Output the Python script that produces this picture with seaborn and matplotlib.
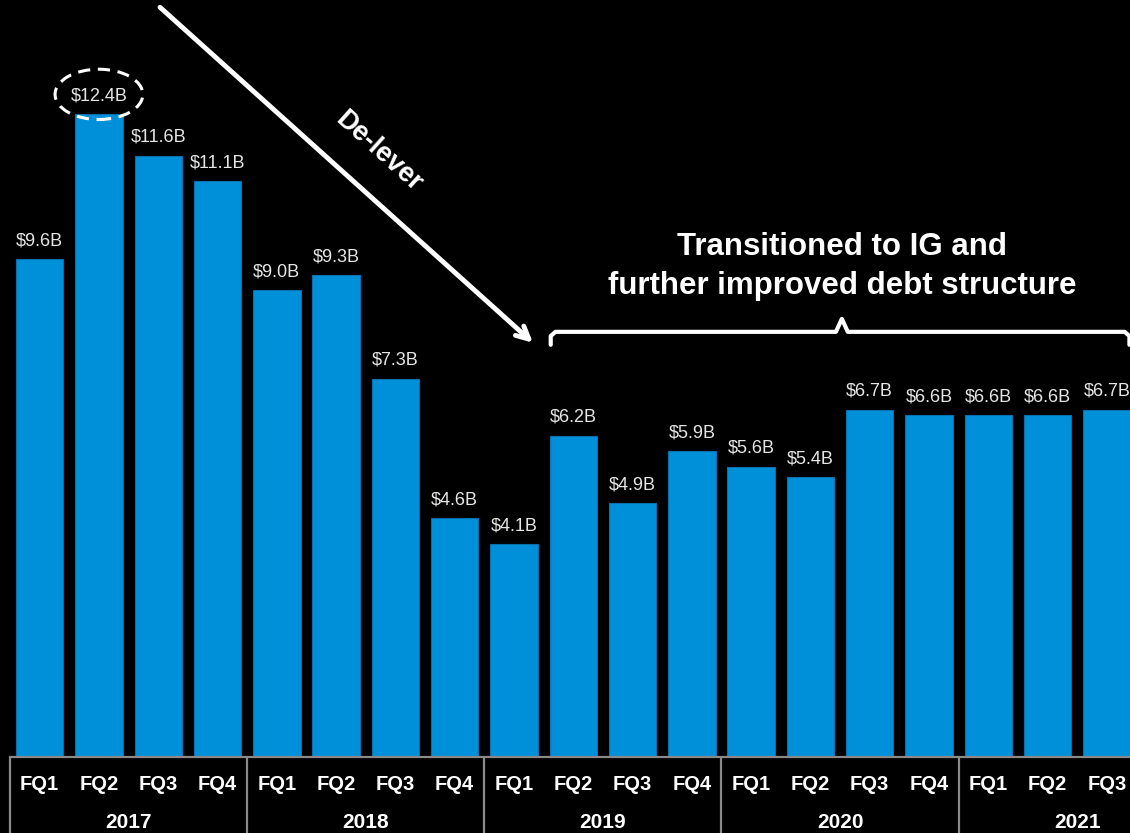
import matplotlib
matplotlib.use("Agg")
import matplotlib.pyplot as plt
import matplotlib.transforms as mtransforms
from matplotlib.patches import Ellipse
import seaborn as sns
import pandas as pd

# ---- data ----
years = ["2017", "2018", "2019", "2020", "2021"]
quarters = ["FQ1", "FQ2", "FQ3", "FQ4"]
period_year = ["2017"] * 4 + ["2018"] * 4 + ["2019"] * 4 + ["2020"] * 4 + ["2021"] * 3
period_quarter = quarters * 4 + ["FQ1", "FQ2", "FQ3"]
debt_b = [9.6, 12.4, 11.6, 11.1,
          9.0, 9.3, 7.3, 4.6,
          4.1, 6.2, 4.9, 5.9,
          5.6, 5.4, 6.7, 6.6,
          6.6, 6.6, 6.7]
value_labels = ["$9.6B", "$12.4B", "$11.6B", "$11.1B",
                "$9.0B", "$9.3B", "$7.3B", "$4.6B",
                "$4.1B", "$6.2B", "$4.9B", "$5.9B",
                "$5.6B", "$5.4B", "$6.7B", "$6.6B",
                "$6.6B", "$6.6B", "$6.7B"]

df = pd.DataFrame({
    "period": [f"{y} {q}" for y, q in zip(period_year, period_quarter)],
    "year": period_year,
    "quarter": period_quarter,
    "debt": debt_b,
})

sns.set_style("dark")
plt.rcParams["font.family"] = ["Liberation Sans", "DejaVu Sans"]

BLUE = "#0090D9"
fig = plt.figure(figsize=(11.3, 8.33), dpi=100, facecolor="black")
ax = fig.add_axes([10 / 1130, 76 / 833, 1120 / 1130, 757 / 833])
ax.set_facecolor("black")

sns.barplot(data=df, x="period", y="debt", order=df["period"].tolist(),
            color=BLUE, saturation=1, width=0.8, edgecolor="#0a6fae",
            linewidth=0.8, ax=ax)

ax.set_xlim(-0.5, 18.39)
ax.set_ylim(0, 14.6)
ax.set_xticks([])
ax.set_yticks([])
ax.set_xlabel("")
ax.set_ylabel("")
for s in ax.spines.values():
    s.set_visible(False)
ax.grid(False)

# value labels
for i, (v, lab) in enumerate(zip(debt_b, value_labels)):
    ax.annotate(lab, (i, v), xytext=(0, 7), textcoords="offset points",
                ha="center", va="bottom", color="#e6e6e6", fontsize=13)

# table below the axis
trans = mtransforms.blended_transform_factory(ax.transData, ax.transAxes)
GRAY = "#8a8a8a"
ax.plot([-0.5, 19.5], [0, 0], transform=trans, color=GRAY, lw=1.6, clip_on=False)
n_years = len(years)
for k in range(n_years + 1):
    xb = -0.5 + 4 * k
    ax.plot([xb, xb], [0, -76 / 757], transform=trans, color=GRAY, lw=1.6,
            clip_on=False)
for i, q in enumerate(period_quarter):
    ax.text(i, -27 / 757, q, transform=trans, ha="center", va="center",
            color="white", fontsize=14.5, fontweight="bold", clip_on=False)
for k, y in enumerate(years):
    ax.text(4 * k + 1.5, -66 / 757, y, transform=trans, ha="center",
            va="center", color="white", fontsize=15, fontweight="bold",
            clip_on=False)

# dashed ellipse around peak
ax.add_patch(Ellipse((1, 12.78), 1.48, 0.97, fill=False, edgecolor="white",
                     lw=2.2, linestyle=(0, (4, 2.5))))

# de-lever arrow
ax.annotate("", xy=(8.32, 7.99), xytext=(2.03, 14.46),
            arrowprops=dict(arrowstyle="->,head_length=0.9,head_width=0.45",
                            color="white", lw=3.5, shrinkA=0, shrinkB=0),
            annotation_clip=False)
ax.text(5.72, 11.68, "De-lever", rotation=-42, ha="center", va="center",
        color="white", fontsize=19.5, fontweight="bold", rotation_mode="anchor")

# bracket
ax.plot([8.62, 8.62, 8.7, 13.43, 13.53, 13.63, 18.3, 18.38, 18.38],
        [7.95, 8.12, 8.2, 8.2, 8.45, 8.2, 8.2, 8.12, 7.95],
        color="white", lw=3, solid_joinstyle="round", clip_on=False)
ax.text(13.53, 9.46, "Transitioned to IG and\nfurther improved debt structure",
        ha="center", va="center", color="white", fontsize=22.5,
        fontweight="bold", linespacing=1.38)

fig.savefig("out.png", dpi=100, facecolor="black")
